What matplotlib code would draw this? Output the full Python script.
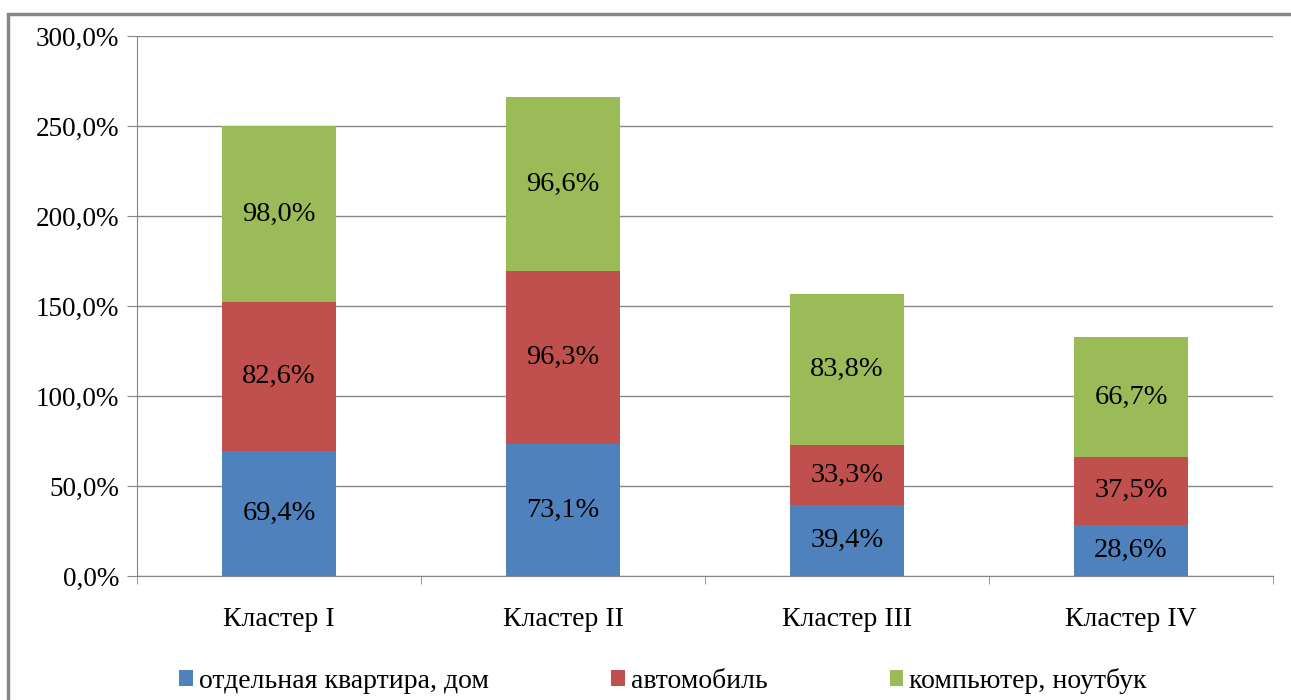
import matplotlib.pyplot as plt
from matplotlib.patches import Rectangle
from matplotlib.ticker import FuncFormatter, MultipleLocator
import numpy as np

plt.rcParams['font.family'] = ['Liberation Serif', 'DejaVu Serif']

# Данные
clusters = ['Кластер I', 'Кластер II', 'Кластер III', 'Кластер IV']
series_names = ['отдельная квартира, дом', 'автомобиль', 'компьютер, ноутбук']
flat_house = [69.4, 73.1, 39.4, 28.6]
car = [82.6, 96.3, 33.3, 37.5]
computer = [98.0, 96.6, 83.8, 66.7]
colors = ['#4F81BD', '#C0504D', '#9BBB59']

fig = plt.figure(figsize=(12.91, 7), dpi=100)
ax = fig.add_axes([137/1291, 124/700, 1136/1291, 540/700])

x = np.arange(len(clusters))
bottom = np.zeros(len(clusters))
for vals, name, col in zip([flat_house, car, computer], series_names, colors):
    vals = np.array(vals)
    ax.bar(x, vals, width=0.4, bottom=bottom, color=col, label=name, zorder=3)
    for xi, b, v in zip(x, bottom, vals):
        ax.text(xi, b + v / 2, f'{v:.1f}%'.replace('.', ','), ha='center', va='center',
                fontsize=20.5, color='black', zorder=4)
    bottom += vals

ax.set_xlim(-0.5, len(clusters) - 0.5)
ax.set_ylim(0, 300)
ax.yaxis.set_major_locator(MultipleLocator(50))
ax.yaxis.set_major_formatter(FuncFormatter(lambda v, p: f'{v:.1f}%'.replace('.', ',')))
ax.grid(axis='y', color='#868686', linewidth=1, zorder=0)

ax.set_xticks(x)
ax.set_xticklabels(clusters, fontsize=20)
ax.set_xticks(np.arange(-0.5, len(clusters)), minor=True)
ax.tick_params(axis='x', which='major', length=0, pad=22)
ax.tick_params(axis='x', which='minor', length=6, color='#868686')
ax.tick_params(axis='y', length=7, color='#868686', labelsize=19.5, pad=6)

for s in ['top', 'right']:
    ax.spines[s].set_visible(False)
for s in ['left', 'bottom']:
    ax.spines[s].set_color('#868686')

leg = fig.legend(loc='center', bbox_to_anchor=(663/1291, 19/700), ncol=3, frameon=False,
                 fontsize=20, handlelength=0.5, handleheight=0.5, handletextpad=0.2,
                 columnspacing=4.4)

# рамка вокруг диаграммы
fig.patches.append(Rectangle((8/1291, -0.1), 1.2, (700-14)/700 + 0.1, transform=fig.transFigure,
                             fill=False, edgecolor='#868686', linewidth=2.5))

plt.savefig('out.png', dpi=100)
